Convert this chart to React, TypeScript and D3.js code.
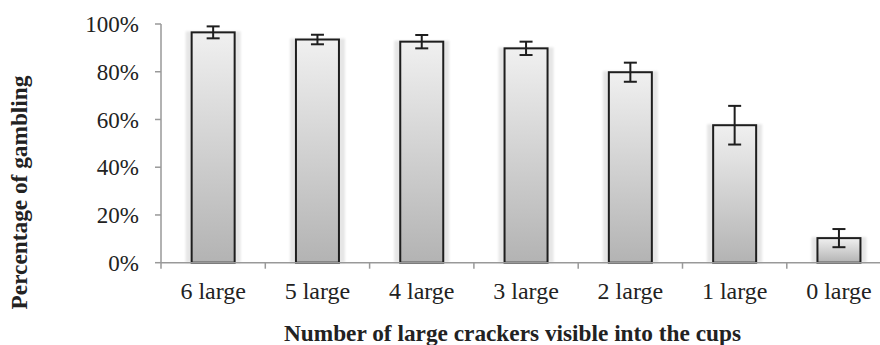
import React from "react";
import * as d3 from "d3";

const categories = ["6 large", "5 large", "4 large", "3 large", "2 large", "1 large", "0 large"];
const values = [96.5, 93.5, 92.6, 89.8, 79.8, 57.6, 10.3];
const errors = [2.5, 2.0, 2.8, 2.8, 4.0, 8.1, 3.8];
const yTicks = [0, 20, 40, 60, 80, 100];

const W = 880;
const H = 345;
const left = 161;
const band = 104.3;
const top = 24;
const bottom = 262.7;

export default function App() {
  const x = d3
    .scaleBand<string>()
    .domain(categories)
    .range([left, left + band * categories.length])
    .padding(0);
  const y = d3.scaleLinear().domain([0, 100]).range([bottom, top]);
  const barW = 43;
  const font = "'Liberation Serif', 'Times New Roman', serif";

  return (
    <svg
      width={W}
      height={H}
      style={{ position: "absolute", left: 0, top: 0, background: "#fff" }}
    >
      <defs>
        <linearGradient id="barGrad" x1="0" y1="0" x2="0" y2="1">
          <stop offset="0%" stopColor="#f0f0f0" />
          <stop offset="100%" stopColor="#b3b3b3" />
        </linearGradient>
        <filter id="soft" x="-20%" y="-5%" width="140%" height="110%">
          <feGaussianBlur stdDeviation="1" />
        </filter>
      </defs>

      {/* y axis */}
      <line x1={left} x2={left} y1={y(100)} y2={bottom} stroke="#999" strokeWidth={1.5} />
      {yTicks.map((t) => (
        <g key={t}>
          <line x1={left - 6} x2={left} y1={y(t)} y2={y(t)} stroke="#999" strokeWidth={1.5} />
          <text
            x={139}
            y={y(t)}
            dy="0.35em"
            textAnchor="end"
            fontFamily={font}
            fontSize={23}
            fill="#222"
          >
            {t}%
          </text>
        </g>
      ))}

      {/* bars */}
      {categories.map((c, i) => {
        const cx = (x(c) as number) + x.bandwidth() / 2;
        const yt = y(values[i]);
        return (
          <g key={c}>
            <rect
              x={cx - barW / 2 - 6}
              y={yt - 1}
              width={barW + 12}
              height={bottom - yt + 1}
              fill="#e6e6e6"
              filter="url(#soft)"
            />
            <rect
              x={cx - barW / 2}
              y={yt}
              width={barW}
              height={bottom - yt}
              fill="url(#barGrad)"
              stroke="#1e1e1e"
              strokeWidth={2}
            />
          </g>
        );
      })}

      {/* x axis */}
      <line x1={left} x2={left + band * categories.length} y1={bottom} y2={bottom} stroke="#999" strokeWidth={1.5} />
      {categories.map((c) => (
        <line
          key={"t" + c}
          x1={x(c) as number}
          x2={x(c) as number}
          y1={bottom}
          y2={bottom + 6}
          stroke="#999"
          strokeWidth={1.5}
        />
      ))}

      {/* error bars */}
      {categories.map((c, i) => {
        const cx = (x(c) as number) + x.bandwidth() / 2;
        const y1 = y(values[i] + errors[i]);
        const y2 = y(values[i] - errors[i]);
        return (
          <g key={"e" + c} stroke="#1e1e1e" strokeWidth={2}>
            <line x1={cx} x2={cx} y1={y1} y2={y2} />
            <line x1={cx - 6.5} x2={cx + 6.5} y1={y1} y2={y1} />
            <line x1={cx - 6.5} x2={cx + 6.5} y1={y2} y2={y2} />
          </g>
        );
      })}

      {/* x tick labels */}
      {categories.map((c) => (
        <text
          key={"l" + c}
          x={(x(c) as number) + x.bandwidth() / 2}
          y={298.5}
          textAnchor="middle"
          fontFamily={font}
          fontSize={24}
          fill="#222"
        >
          {c}
        </text>
      ))}

      {/* axis titles */}
      <text
        x={512.5}
        y={340.5}
        textAnchor="middle"
        fontFamily={font}
        fontSize={23.3}
        fontWeight="bold"
        fill="#222"
      >
        Number of large crackers visible into the cups
      </text>
      <text
        transform={`translate(27, 192.5) rotate(-90)`}
        textAnchor="middle"
        fontFamily={font}
        fontSize={23.3}
        fontWeight="bold"
        fill="#222"
      >
        Percentage of gambling
      </text>
    </svg>
  );
}
